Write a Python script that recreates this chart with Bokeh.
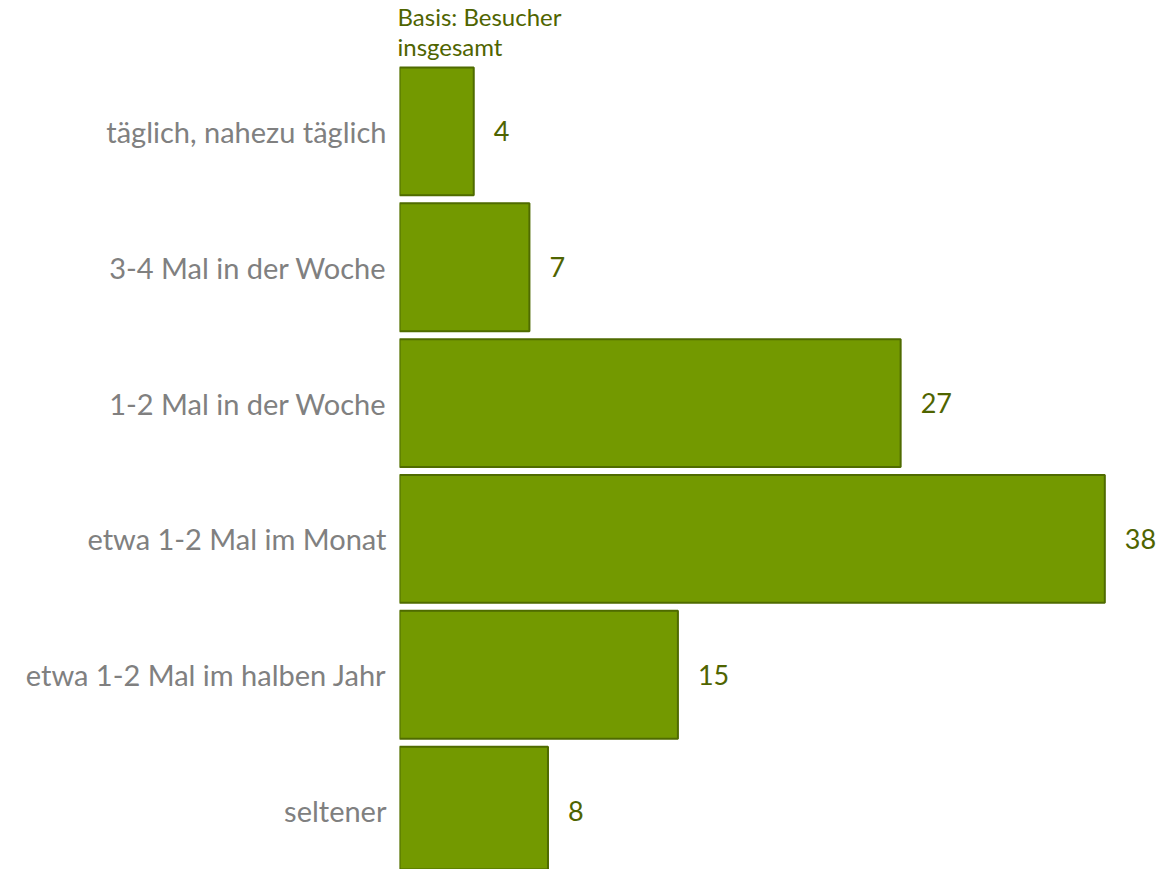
from bokeh.plotting import figure
from bokeh.models import Range1d, FixedTicker, ColumnDataSource
from bokeh.core.properties import value
from bokeh.embed import file_html
from bokeh.resources import INLINE

categories = ["täglich, nahezu täglich", "3-4 Mal in der Woche", "1-2 Mal in der Woche",
              "etwa 1-2 Mal im Monat", "etwa 1-2 Mal im halben Jahr", "seltener"]
values = [4, 7, 27, 38, 15, 8]
note = "Basis: Besucher\ninsgesamt"

FONT = "Lato"
idx = list(range(len(categories)))
src = ColumnDataSource(dict(y=idx, v=values, lbl=[str(v) for v in values]))

p = figure(width=1160, height=869, output_backend="svg", toolbar_location=None,
           x_range=Range1d(0, 41.0), y_range=Range1d(5.434, -0.515),
           min_border_left=399, min_border_right=0, min_border_top=60, min_border_bottom=0,
           title=note)
p.outline_line_color = None
p.grid.grid_line_color = None
p.xaxis.visible = False

p.title.align = "left"
p.title.offset = -2
p.title.standoff = 0
p.title.text_font = FONT
p.title.text_font_style = "normal"
p.title.text_font_size = "24px"
p.title.text_color = "#4f6400"
p.title.text_line_height = 1.05

p.hbar(y="y", right="v", left=0, height=0.941, source=src,
       fill_color="#739900", line_color="#4f6b00", line_width=2)
p.text(x="v", y="y", text="lbl", source=src, x_offset=20, text_baseline="middle",
       text_align="left", text_color="#4f6400", text_font=value(FONT), text_font_size="27px")

ax = p.yaxis[0]
ax.ticker = FixedTicker(ticks=idx)
ax.major_label_overrides = {i: c for i, c in enumerate(categories)}
ax.axis_line_color = None
ax.major_tick_line_color = None
ax.minor_tick_line_color = None
ax.major_label_standoff = 7
ax.major_label_text_font = FONT
ax.major_label_text_font_size = "29px"
ax.major_label_text_color = "#808080"

open("out.html", "w").write(file_html(p, INLINE))
